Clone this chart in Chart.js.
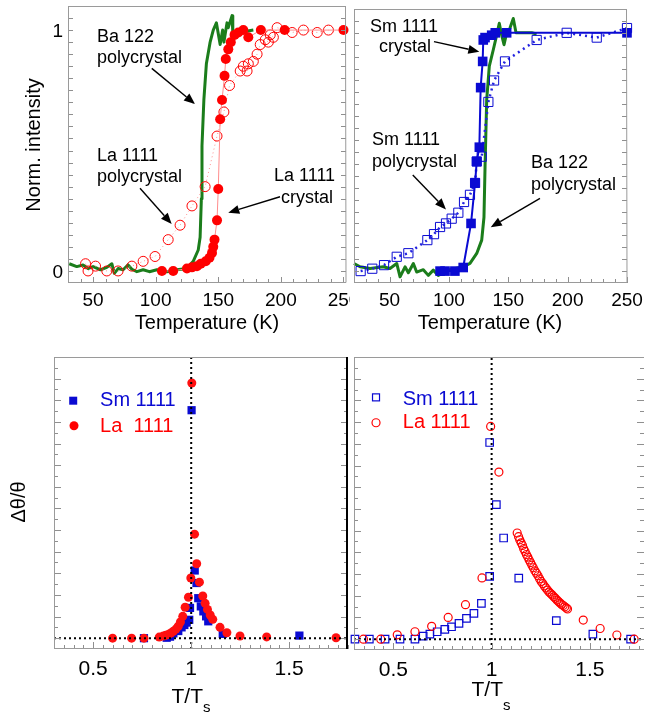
<!DOCTYPE html>
<html>
<head>
<meta charset="utf-8">
<script src="https://cdn.jsdelivr.net/npm/chart.js@4.4.0/dist/chart.umd.min.js"></script>
<style>
  body { margin: 0; background: #fff; overflow: hidden; }
  canvas { position: absolute; }
</style>
</head>
<body>
<canvas id="tl" width="350" height="340" style="left:0;top:0"></canvas>
<canvas id="tr" width="295" height="340" style="left:350px;top:0"></canvas>
<canvas id="bl" width="350" height="377" style="left:0;top:340px"></canvas>
<canvas id="br" width="295" height="377" style="left:350px;top:340px"></canvas>
<script>
// tick labels
const tempTicks = [50, 100, 150, 200, 250];
const ratioTicks = [0.5, 1, 1.5];
const intensityTicks = [0, 1];

// ---- top left: La 1111 + Ba 122, intensity vs temperature ----
const laCrystalT = [105, 114, 125, 129, 133, 136, 140, 143, 145, 146, 147, 149, 150, 151.5, 153, 155, 156, 158, 160, 163, 166, 170, 174, 184, 203, 250];
const laCrystalI = [0, 0, 0.01, 0.015, 0.02, 0.03, 0.04, 0.055, 0.075, 0.1, 0.13, 0.21, 0.34, 0.63, 0.71, 0.81, 0.88, 0.92, 0.95, 0.98, 0.99, 1.0, 0.97, 1.0, 1.0, 1.0];
const laPolyT = [44, 46, 52, 61, 70, 81, 90, 99.5, 110, 119.5, 129, 139.5, 149, 154.5, 159, 167.5, 170, 173, 174, 178, 181, 183.5, 187.5, 190, 191.5, 194, 197, 209, 218, 229, 238];
const laPolyI = [0.03, 0, 0.02, 0, 0, 0.02, 0.04, 0.06, 0.13, 0.19, 0.27, 0.35, 0.56, 0.66, 0.77, 0.83, 0.85, 0.83, 0.86, 0.87, 0.9, 0.94, 0.96, 0.95, 0.98, 0.97, 1.01, 0.99, 1.0, 0.99, 1.0];
const baLeftT = [31, 37, 42, 46, 50, 56, 61, 65, 67, 70, 74, 78, 81, 85, 90, 95, 101, 109, 117, 125, 130, 134, 135.5, 136.5, 137, 138.5, 140.5, 143.5, 146, 148.5, 151.5, 153.5, 154.5, 157, 158, 161, 161.6, 167, 178];
const baLeftI = [0.03, 0.018, 0.025, 0.01, 0.018, 0.005, 0.015, 0.03, -0.01, 0.01, 0.005, 0.025, 0.007, -0.003, 0.005, -0.003, 0.005, -0.003, 0.005, 0.01, 0.04, 0.087, 0.14, 0.3, 0.52, 0.71, 0.86, 0.95, 1.0, 1.03, 0.94, 1.0, 0.95, 1.03, 1.01, 1.06, 0.99, 0.99, 1.0];

// ---- top right: Sm 1111 + Ba 122 ----
const smCrystalT = [92.5, 96.7, 105, 112, 118.6, 122, 123.4, 125.6, 126.7, 128.4, 128.9, 130.4, 136, 139, 148.6, 250];
const smCrystalI = [0, 0, 0, 0.015, 0.2, 0.37, 0.46, 0.52, 0.77, 0.88, 0.97, 0.98, 0.99, 1.0, 1.0, 1.0];
const smPolyT = [25.6, 35.4, 45.3, 56, 65.8, 81.8, 87.4, 92.5, 97.5, 102.3, 107.9, 112.7, 117.7, 122, 123.4, 127.6, 133.2, 138, 147.2, 173.9, 199.2, 224.5, 250];
const smPolyI = [0, 0.01, 0.025, 0.06, 0.075, 0.13, 0.155, 0.185, 0.2, 0.22, 0.245, 0.29, 0.32, 0.37, 0.46, 0.48, 0.71, 0.8, 0.88, 0.97, 1.0, 0.98, 1.02];
const baRightT = [20, 25.1, 33.5, 44.7, 50.3, 56, 58.8, 63, 65.8, 70, 72.8, 78.4, 82.6, 86.8, 91, 100.9, 112.1, 117.7, 123.4, 127.6, 129.5, 130.4, 131.8, 134, 137.4, 140.2, 142.4, 144.4, 146.4, 148.6, 151.4, 154.2, 156.5, 161.3, 169.7, 173.9];
const baRightI = [0.032, 0.018, 0.011, 0.018, 0.011, 0.032, -0.024, 0.018, -0.007, 0.032, -0.004, 0.006, -0.018, 0.004, -0.018, 0.006, 0.018, 0.032, 0.074, 0.13, 0.226, 0.437, 0.72, 0.86, 0.93, 0.99, 1.04, 0.99, 0.95, 1.0, 1.02, 1.06, 1.0, 1.0, 1.0, 0.995];

// ---- bottom left: crystals, dtheta/theta vs T/Ts ----
const smNormX = [0.759, 0.875, 0.892, 0.909, 0.934, 0.951, 0.965, 0.977, 0.990, 0.994, 1.002, 1.018, 1.027, 1.036, 1.049, 1.062, 1.076, 1.087, 1.161, 1.552];
const smNormY = [0, 0.002, 0.007, 0.022, 0.033, 0.05, 0.061, 0.072, 0.085, 0.14, 1.054, 0.313, 0.255, 0.185, 0.147, 0.124, 0.101, 0.078, 0.02, 0.012];
const laNormX = [0.599, 0.696, 0.759, 0.837, 0.858, 0.870, 0.883, 0.896, 0.909, 0.922, 0.934, 0.945, 0.957, 0.969, 0.986, 0.998, 1.003, 1.017, 1.028, 1.042, 1.059, 1.071, 1.083, 1.097, 1.110, 1.147, 1.182, 1.249, 1.385, 1.739];
const laNormY = [0, 0, 0, 0.005, 0.01, 0.013, 0.017, 0.024, 0.032, 0.042, 0.055, 0.075, 0.101, 0.143, 0.189, 0.278, 1.18, 0.481, 0.344, 0.259, 0.195, 0.161, 0.133, 0.107, 0.087, 0.05, 0.025, 0.01, 0.006, 0.002];

// ---- bottom right: polycrystals ----
const smPolyNormX = [0.305, 0.378, 0.458, 0.534, 0.610, 0.652, 0.686, 0.723, 0.762, 0.796, 0.834, 0.872, 0.910, 0.948, 0.990, 0.990, 1.024, 1.061, 1.138, 1.329, 1.515, 1.707];
const smPolyNormY = [0, 0, 0, 0, 0, 0.014, 0.023, 0.034, 0.045, 0.057, 0.073, 0.096, 0.119, 0.165, 0.289, 0.906, 0.62, 0.466, 0.281, 0.085, 0.023, 0];
const laPolyNormX = [0.348, 0.436, 0.520, 0.610, 0.695, 0.779, 0.867, 0.951, 0.995, 1.037,
  1.130, 1.137, 1.143, 1.150, 1.157, 1.163, 1.170, 1.177, 1.184, 1.191, 1.198, 1.205, 1.212, 1.220, 1.228, 1.236, 1.244, 1.252,
  1.260, 1.268, 1.276, 1.284, 1.292, 1.300, 1.308, 1.316, 1.324, 1.332, 1.340, 1.348, 1.356, 1.364, 1.372, 1.380, 1.386,
  1.466, 1.552, 1.637, 1.725];
const laPolyNormY = [0, 0, 0.02, 0.034, 0.059, 0.1, 0.159, 0.282, 0.98, 0.77,
  0.489, 0.472, 0.458, 0.444, 0.432, 0.417, 0.404, 0.39, 0.378, 0.365, 0.353, 0.341, 0.329, 0.315, 0.304, 0.292, 0.278, 0.266,
  0.256, 0.245, 0.236, 0.226, 0.217, 0.21, 0.203, 0.195, 0.188, 0.18, 0.173, 0.166, 0.16, 0.155, 0.149, 0.143, 0.139,
  0.088, 0.049, 0.019, 0];

const FONT = "'Liberation Sans', Arial, Helvetica, sans-serif";
const RED = '#ff0000';
const BLUE = '#0a0ad2';
const GREEN = '#1b7d1b';

const pts = (xs, ys) => xs.map((x, i) => ({ x: x, y: ys[i] }));

function drawArrow(ctx, x1, y1, x2, y2) {
  const ang = Math.atan2(y2 - y1, x2 - x1);
  const hl = 11, hw = 4.5;
  const bx = x2 - hl * Math.cos(ang), by = y2 - hl * Math.sin(ang);
  ctx.beginPath();
  ctx.moveTo(x1, y1);
  ctx.lineTo(bx, by);
  ctx.stroke();
  ctx.beginPath();
  ctx.moveTo(x2, y2);
  ctx.lineTo(bx + hw * Math.sin(ang), by - hw * Math.cos(ang));
  ctx.lineTo(bx - hw * Math.sin(ang), by + hw * Math.cos(ang));
  ctx.closePath();
  ctx.fill();
}

// ticks inside the frame, frame, notes, arrows, legend and axis titles
function decorations(cfg) {
  return {
    id: 'deco',
    afterDatasetsDraw(chart) {
      const ctx = chart.ctx;
      const a = chart.chartArea;
      const x = chart.scales.x, y = chart.scales.y;
      ctx.save();

      ctx.strokeStyle = '#8f8f8f';
      ctx.lineWidth = 1;
      ctx.beginPath();
      const yt = cfg.yTicks;
      for (let i = 0; yt.from + i * yt.step <= y.max + 1e-9; i++) {
        const py = Math.round(y.getPixelForValue(yt.from + i * yt.step)) + 0.5;
        const len = i % 2 === 0 ? yt.major : yt.minor;
        ctx.moveTo(a.left, py); ctx.lineTo(a.left + len, py);
        ctx.moveTo(a.right, py); ctx.lineTo(a.right - len, py);
      }
      const xt = cfg.xTicks;
      for (let i = 0; xt.from + i * xt.step <= x.max + 1e-9; i++) {
        const v = xt.from + i * xt.step;
        const px = Math.round(x.getPixelForValue(v)) + 0.5;
        const isMajor = Math.abs(v / xt.every - Math.round(v / xt.every)) < 1e-6;
        ctx.moveTo(px, a.bottom); ctx.lineTo(px, a.bottom - (isMajor ? xt.major : xt.minor));
      }
      ctx.stroke();

      // frame
      ctx.strokeStyle = '#9a9a9a';
      ctx.beginPath();
      ctx.moveTo(a.right, a.top + 0.5); ctx.lineTo(a.left + 0.5, a.top + 0.5);
      ctx.lineTo(a.left + 0.5, a.bottom - 0.5); ctx.lineTo(a.right, a.bottom - 0.5);
      if (cfg.rightEdge === 'gray') ctx.lineTo(a.right - 0.5, a.top + 0.5);
      ctx.stroke();
      if (cfg.rightEdge === 'black') {
        ctx.strokeStyle = '#000';
        ctx.lineWidth = 2;
        ctx.beginPath();
        ctx.moveTo(a.right - 1, a.top); ctx.lineTo(a.right - 1, a.bottom);
        ctx.stroke();
      }

      // notes and arrows
      ctx.fillStyle = '#000';
      ctx.font = '18px ' + FONT;
      ctx.textBaseline = 'middle';
      (cfg.notes || []).forEach(n => {
        ctx.textAlign = n.align || 'left';
        ctx.fillText(n.text, x.getPixelForValue(n.x), y.getPixelForValue(n.y));
      });
      ctx.strokeStyle = '#000';
      ctx.lineWidth = 1.4;
      (cfg.arrows || []).forEach(r => {
        drawArrow(ctx, x.getPixelForValue(r[0]), y.getPixelForValue(r[1]),
          x.getPixelForValue(r[2]), y.getPixelForValue(r[3]));
      });

      // legend
      (cfg.legend || []).forEach(l => {
        const mx = x.getPixelForValue(l.mx), my = y.getPixelForValue(l.y);
        ctx.fillStyle = l.color;
        ctx.strokeStyle = l.color;
        ctx.lineWidth = 1.2;
        if (l.shape === 'rect') {
          if (l.filled) ctx.fillRect(mx - 4, my - 4, 8, 8);
          else ctx.strokeRect(mx - 3.5, my - 3.5, 7, 7);
        } else {
          ctx.beginPath();
          ctx.arc(mx, my, l.filled ? 4.5 : 4, 0, Math.PI * 2);
          if (l.filled) ctx.fill(); else ctx.stroke();
        }
        ctx.font = '20px ' + FONT;
        ctx.textAlign = 'left';
        ctx.fillText(l.text, x.getPixelForValue(l.tx), y.getPixelForValue(l.ty));
      });

      // axis titles, given in page pixels
      ctx.fillStyle = '#000';
      ctx.textBaseline = 'alphabetic';
      (cfg.titles || []).forEach(t => {
        const px = t.x - cfg.left, py = t.y - cfg.top;
        ctx.font = t.size + 'px ' + FONT;
        if (t.rotate) {
          ctx.save();
          ctx.translate(px, py);
          ctx.rotate(-Math.PI / 2);
          ctx.textAlign = 'center';
          ctx.fillText(t.text, 0, 0);
          ctx.restore();
        } else if (t.sub) {
          const w1 = ctx.measureText(t.text).width;
          ctx.font = (t.size - 6) + 'px ' + FONT;
          const w2 = ctx.measureText(t.sub).width;
          const start = px - (w1 + w2) / 2;
          ctx.textAlign = 'left';
          ctx.fillText(t.sub, start + w1, py + t.subDrop);
          ctx.font = t.size + 'px ' + FONT;
          ctx.fillText(t.text, start, py);
        } else {
          ctx.textAlign = 'center';
          ctx.fillText(t.text, px, py);
        }
      });
      ctx.restore();
    }
  };
}

function makePanel(id, cfg) {
  return new Chart(document.getElementById(id), {
    type: 'scatter',
    data: { datasets: cfg.datasets },
    options: {
      responsive: false,
      animation: false,
      devicePixelRatio: 1,
      layout: { padding: cfg.padding, autoPadding: false },
      plugins: { legend: { display: false }, tooltip: { enabled: false } },
      scales: {
        x: {
          type: 'linear',
          min: cfg.xMin,
          max: cfg.xMax,
          grid: { display: false, drawTicks: false },
          border: { display: false },
          afterBuildTicks: s => { s.ticks = cfg.xLabels.map(v => ({ value: v })); },
          ticks: {
            autoSkip: false,
            maxRotation: 0,
            padding: cfg.xPad,
            color: '#000',
            font: { family: FONT, size: cfg.xFont },
            callback: v => String(v)
          },
          afterFit: s => { s.height = cfg.xHeight; s.paddingLeft = 0; s.paddingRight = 0; }
        },
        y: {
          type: 'linear',
          display: cfg.yWidth > 0,
          min: cfg.yMin,
          max: cfg.yMax,
          grid: { display: false, drawTicks: false },
          border: { display: false },
          afterBuildTicks: s => { s.ticks = (cfg.yLabels || []).map(v => ({ value: v })); },
          ticks: {
            display: !!cfg.yLabels,
            padding: 5,
            labelOffset: 2,
            color: '#000',
            font: { family: FONT, size: 19 },
            callback: v => String(v)
          },
          afterFit: s => { s.width = cfg.yWidth; s.paddingTop = 0; s.paddingBottom = 0; }
        }
      }
    },
    plugins: [decorations(cfg)]
  });
}

const lineSet = (data, color, width, dash) => ({
  data: data, showLine: true, borderColor: color, borderWidth: width, borderDash: dash || [],
  pointRadius: 0, clip: false, borderJoinStyle: 'round'
});

makePanel('tl', {
  left: 0, top: 0,
  padding: { left: 0, right: 4, top: 6, bottom: 0 },
  xMin: 30, xMax: 252, xLabels: tempTicks, xPad: 6, xFont: 19, xHeight: 57,
  yMin: -0.05, yMax: 1.1, yWidth: 68, yLabels: intensityTicks,
  yTicks: { from: 0, step: 0.05, major: 5, minor: 5 },
  xTicks: { from: 30, step: 10, every: 50, major: 6, minor: 4 },
  rightEdge: 'gray',
  datasets: [
    { data: pts(laCrystalT, laCrystalI), showLine: true, borderColor: '#ff8c8c', borderWidth: 1,
      pointRadius: 5, pointBackgroundColor: RED, pointBorderColor: RED, pointBorderWidth: 0, clip: false },
    { data: pts(laPolyT, laPolyI), showLine: true, borderColor: '#ff8c8c', borderWidth: 1, borderDash: [1, 3],
      pointRadius: 5, pointBackgroundColor: 'rgba(0,0,0,0)', pointBorderColor: RED, pointBorderWidth: 1, clip: false },
    lineSet(pts(baLeftT, baLeftI), GREEN, 3)
  ],
  notes: [
    { x: 53.2, y: 0.97, text: 'Ba 122' }, { x: 53.2, y: 0.884, text: 'polycrystal' },
    { x: 53.2, y: 0.477, text: 'La 1111' }, { x: 53.2, y: 0.39, text: 'polycrystal' },
    { x: 243.3, y: 0.394, text: 'La 1111', align: 'right' }, { x: 241.7, y: 0.303, text: 'crystal', align: 'right' }
  ],
  arrows: [[96.9, 0.841, 131.4, 0.693], [87.5, 0.343, 112.8, 0.195], [199.3, 0.308, 158, 0.242]],
  titles: [
    { text: 'Norm. intensity', x: 39.5, y: 145, size: 20, rotate: true },
    { text: 'Temperature (K)', x: 207, y: 329, size: 20 }
  ]
});

makePanel('tr', {
  left: 350, top: 0,
  padding: { left: 4, right: 18, top: 9, bottom: 0 },
  xMin: 20, xMax: 250, xLabels: tempTicks, xPad: 6, xFont: 19, xHeight: 57,
  yMin: -0.05, yMax: 1.1, yWidth: 0,
  yTicks: { from: 0, step: 0.05, major: 5, minor: 5 },
  xTicks: { from: 20, step: 10, every: 50, major: 6, minor: 4 },
  rightEdge: 'gray',
  datasets: [
    { data: pts(smCrystalT, smCrystalI), showLine: true, borderColor: BLUE, borderWidth: 2,
      pointStyle: 'rect', pointRadius: 6.8, pointBackgroundColor: BLUE, pointBorderColor: BLUE, pointBorderWidth: 0, clip: false },
    { data: pts(smPolyT, smPolyI), showLine: true, borderColor: '#2222e0', borderWidth: 2.5, borderDash: [2, 4],
      pointStyle: 'rect', pointRadius: 6.5, pointBackgroundColor: 'rgba(0,0,0,0)', pointBorderColor: BLUE, pointBorderWidth: 1, clip: false },
    lineSet(pts(baRightT, baRightI), GREEN, 3)
  ],
  notes: [
    { x: 62.1, y: 1.024, text: 'Sm 1111', align: 'center' }, { x: 63, y: 0.94, text: 'crystal', align: 'center' },
    { x: 35.2, y: 0.55, text: 'Sm 1111' }, { x: 35.2, y: 0.458, text: 'polycrystal' },
    { x: 169.1, y: 0.454, text: 'Ba 122' }, { x: 169.1, y: 0.361, text: 'polycrystal' }
  ],
  arrows: [[87.4, 0.963, 125.6, 0.921], [69.5, 0.403, 97.5, 0.259], [176.7, 0.305, 135.2, 0.184]],
  titles: [
    { text: 'Temperature (K)', x: 490, y: 329, size: 20 }
  ]
});

makePanel('bl', {
  left: 0, top: 340,
  padding: { left: 0, right: 2, top: 17, bottom: 0 },
  xMin: 0.3, xMax: 1.8, xLabels: ratioTicks, xPad: 8, xFont: 21, xHeight: 68,
  yMin: -0.05, yMax: 1.3, yWidth: 54,
  yTicks: { from: 0, step: 0.05, major: 7, minor: 4 },
  xTicks: { from: 0.3, step: 0.05, every: 0.5, major: 7, minor: 4 },
  rightEdge: 'black',
  datasets: [
    lineSet(pts([1, 1], [-0.05, 1.3]), '#000', 2, [2, 3]),
    lineSet(pts([0.3, 1.8], [0, 0]), '#000', 2, [2, 3]),
    { data: pts(laNormX, laNormY), pointRadius: 4.5, pointBackgroundColor: '#ff1010', pointBorderWidth: 0, clip: false },
    { data: pts(smNormX, smNormY), pointStyle: 'rect', pointRadius: 5.8, pointBackgroundColor: BLUE, pointBorderWidth: 0, clip: false }
  ],
  legend: [
    { mx: 0.398, y: 1.098, shape: 'rect', filled: true, color: BLUE, text: 'Sm 1111', tx: 0.535, ty: 1.097 },
    { mx: 0.402, y: 0.982, shape: 'circle', filled: true, color: RED, text: 'La  1111', tx: 0.535, ty: 0.981 }
  ],
  titles: [
    { text: '\u0394\u03b8/\u03b8', x: 25, y: 502, size: 20, rotate: true },
    { text: 'T/T', sub: 's', subDrop: 9, x: 191, y: 703, size: 21 }
  ]
});

makePanel('br', {
  left: 350, top: 340,
  padding: { left: 4, right: 1, top: 17, bottom: 0 },
  xMin: 0.3, xMax: 1.775, xLabels: ratioTicks, xPad: 8, xFont: 21, xHeight: 67,
  yMin: -0.05, yMax: 1.3, yWidth: 0,
  yTicks: { from: 0, step: 0.05, major: 7, minor: 4 },
  xTicks: { from: 0.3, step: 0.05, every: 0.5, major: 7, minor: 4 },
  rightEdge: 'none',
  datasets: [
    lineSet(pts([1, 1], [-0.05, 1.3]), '#000', 2, [2, 3]),
    lineSet(pts([0.3, 1.775], [0, 0]), '#000', 2, [2, 3]),
    { data: pts(laPolyNormX, laPolyNormY), pointRadius: 4, pointBackgroundColor: 'rgba(0,0,0,0)',
      pointBorderColor: RED, pointBorderWidth: 1.2, clip: false },
    { data: pts(smPolyNormX, smPolyNormY), pointStyle: 'rect', pointRadius: 5.3, pointBackgroundColor: 'rgba(0,0,0,0)',
      pointBorderColor: BLUE, pointBorderWidth: 1.2, clip: false }
  ],
  legend: [
    { mx: 0.412, y: 1.114, shape: 'rect', filled: false, color: BLUE, text: 'Sm 1111', tx: 0.548, ty: 1.102 },
    { mx: 0.412, y: 0.997, shape: 'circle', filled: false, color: RED, text: 'La 1111', tx: 0.548, ty: 0.996 }
  ],
  titles: [
    { text: 'T/T', sub: 's', subDrop: 14, x: 491, y: 696, size: 21 }
  ]
});
</script>
</body>
</html>
